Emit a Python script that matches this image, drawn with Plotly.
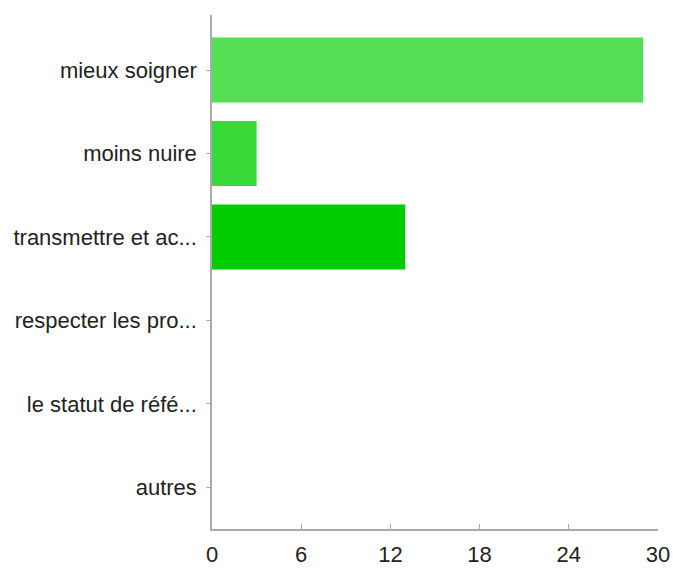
import plotly.graph_objects as go

categories = ["mieux soigner", "moins nuire", "transmettre et ac...",
              "respecter les pro...", "le statut de réfé...", "autres"]
values = [29, 3, 13, 0, 0, 0]
bar_colors = ["#55DF55", "#3AD93A", "#00CC00", "#00CC00", "#00CC00", "#00CC00"]
x_ticks = [0, 6, 12, 18, 24, 30]

fig = go.Figure(go.Bar(
    x=values, y=categories, orientation="h",
    marker=dict(color=bar_colors, line=dict(width=0)),
    width=0.78,
))

fig.update_layout(
    width=673, height=571,
    margin=dict(l=212, r=15, t=15, b=42),
    paper_bgcolor="white", plot_bgcolor="white",
    showlegend=False,
    font=dict(family="Liberation Sans, Arial, sans-serif", color="#222"),
)
fig.update_xaxes(
    range=[0, 30], tickvals=x_ticks, ticktext=[str(v) for v in x_ticks],
    showgrid=False, zeroline=False, automargin=False,
    showline=True, linecolor="#aaaaaa", linewidth=1.5,
    ticks="inside", ticklen=5, tickcolor="#aaaaaa",
    tickfont=dict(size=22), ticklabelstandoff=5,
)
fig.update_yaxes(
    range=[5.5, -0.66], categoryorder="array", categoryarray=categories,
    showgrid=False, zeroline=False, automargin=False,
    showline=True, linecolor="#aaaaaa", linewidth=1.5,
    ticks="outside", ticklen=4, tickcolor="#aaaaaa",
    tickfont=dict(size=22), ticklabelstandoff=5,
)

fig.write_html(
    "out.html",
    config={"displayModeBar": False},
    post_script="document.body.style.margin='0';document.body.style.overflow='hidden';",
)
